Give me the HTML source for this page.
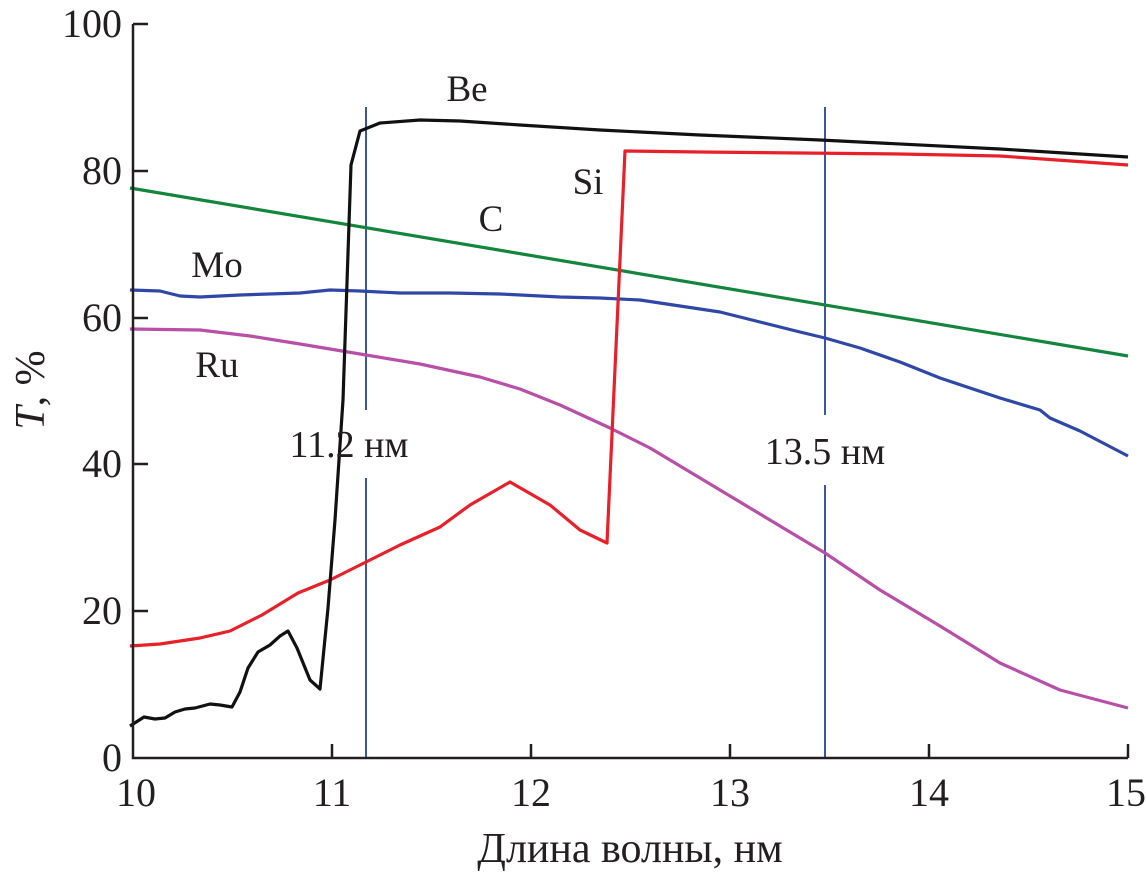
<!DOCTYPE html>
<html><head><meta charset="utf-8"><style>body{margin:0;background:#fff}</style></head><body>
<svg width="1146" height="872" viewBox="0 0 1146 872" xmlns="http://www.w3.org/2000/svg" font-family="Liberation Serif, serif" fill="none">
<g stroke="#3b55a8" stroke-width="2">
<line x1="366" y1="107" x2="366" y2="410"/><line x1="366" y1="478" x2="366" y2="758"/>
<line x1="825" y1="107" x2="825" y2="415"/><line x1="825" y1="485" x2="825" y2="758"/>
</g>
<g stroke-width="3.2" stroke-linejoin="round">
<polyline stroke="#14853c" points="130,188 1128,356"/>
<polyline stroke="#b84fa8" points="130,329 200,330 250,336 300,344 366,355 420,364 480,377 520,389 560,405 610,428 650,448 700,478 760,514 825,553 880,590 940,626 1000,663 1060,690 1128,708"/>
<polyline stroke="#2f48a8" points="130,290 160,291 180,296 200,297 240,295 300,293 330,290 360,291 400,293 450,293 500,294 560,297 600,298 640,300 680,306 720,312 760,322 800,332 825,338 860,348 900,362 940,378 1000,398 1040,410 1050,418 1080,431 1128,456"/>
<polyline stroke="#e8202a" points="130,646 160,644 200,638 230,631 262,615 298,593 330,580 370,560 400,545 440,527 470,505 510,482 550,505 580,530 607,543 625,151 700,152 900,154 1000,156 1128,165"/>
<polyline stroke="#111" points="130,726 144,717 155,719 165,718 175,712 185,709 195,708 210,704 220,705 232,707 240,692 248,668 258,652 270,645 280,636 288,631 297,648 310,680 320,689 328,608 335,520 343,400 351,165 360,131 380,123 420,120 460,121 520,125 600,130 700,135 820,140 1000,149 1128,157"/>
</g>
<g stroke="#231f20" stroke-width="2.5">
<polyline points="133,24 133,758 1128,758"/>
<line x1="133" y1="24" x2="148" y2="24"/><line x1="133" y1="171" x2="148" y2="171"/><line x1="133" y1="318" x2="148" y2="318"/><line x1="133" y1="464" x2="148" y2="464"/><line x1="133" y1="611" x2="148" y2="611"/>
<line x1="332" y1="758" x2="332" y2="744"/><line x1="531" y1="758" x2="531" y2="744"/><line x1="730" y1="758" x2="730" y2="744"/><line x1="929" y1="758" x2="929" y2="744"/><line x1="1128" y1="758" x2="1128" y2="744"/>
</g>
<g fill="#231f20" font-size="40" text-anchor="end">
<text x="122" y="37">100</text><text x="122" y="184">80</text><text x="122" y="331">60</text><text x="122" y="477">40</text><text x="122" y="624">20</text><text x="122" y="771">0</text>
</g>
<g fill="#231f20" font-size="40" text-anchor="middle">
<text x="136" y="806">10</text><text x="332" y="806">11</text><text x="531" y="806">12</text><text x="730" y="806">13</text><text x="929" y="806">14</text><text x="1126" y="806">15</text>
<text x="630" y="862" font-size="42">Длина волны, нм</text>
<text x="467" y="101" font-size="37">Be</text><text x="588" y="194" font-size="37">Si</text><text x="491" y="231" font-size="37">C</text>
<text x="217" y="277" font-size="37">Mo</text><text x="217" y="377" font-size="37">Ru</text>
<text x="349" y="457" font-size="38">11.2 нм</text><text x="825" y="464" font-size="38">13.5 нм</text>
<text transform="translate(44,390) rotate(-90)" font-size="42"><tspan font-style="italic">T</tspan>, %</text>
</g>
</svg>
</body></html>
